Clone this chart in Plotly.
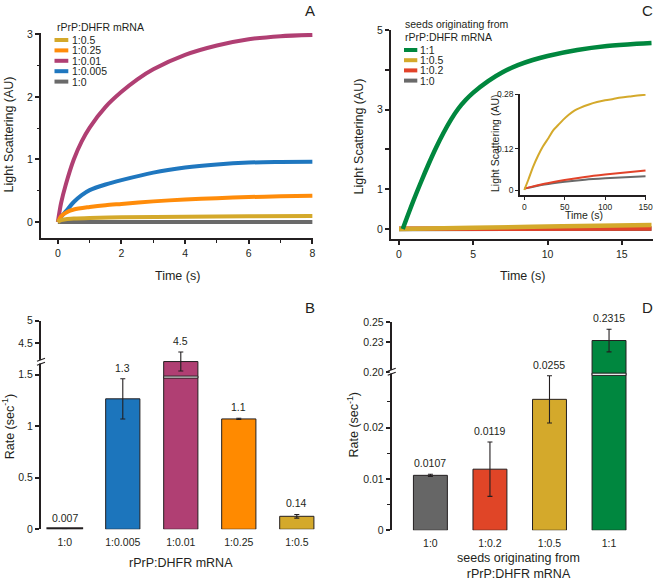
import plotly.graph_objects as go

# ---------------- Panel A : light scattering, rPrP:DHFR mRNA ----------------
A_T_0 = [0, 8]
A_V_0 = [0, 0]
A_T_0_005 = [0, 0.1, 0.25, 0.5, 0.75, 1, 1.5, 2, 3, 4, 5, 6, 7, 8]
A_V_0_005 = [0, 0.08, 0.17, 0.32, 0.43, 0.51, 0.6, 0.67, 0.79, 0.87, 0.92, 0.95, 0.96, 0.965]
A_T_0_01 = [0, 0.1, 0.25, 0.5, 0.75, 1, 1.5, 2, 2.5, 3, 4, 5, 6, 7, 8]
A_V_0_01 = [0, 0.3, 0.6, 1.0, 1.29, 1.51, 1.84, 2.08, 2.28, 2.44, 2.67, 2.82, 2.92, 2.97, 2.99]
A_T_0_25 = [0, 0.1, 0.25, 0.5, 1, 1.5, 2, 3, 4, 5, 6, 7, 8]
A_V_0_25 = [0, 0.09, 0.15, 0.2, 0.24, 0.27, 0.29, 0.33, 0.36, 0.38, 0.4, 0.41, 0.42]
A_T_0_5 = [0, 0.1, 0.25, 0.5, 1, 2, 4, 6, 8]
A_V_0_5 = [0, 0.03, 0.045, 0.055, 0.065, 0.075, 0.085, 0.092, 0.097]
A_LEGEND = ["1:0.5", "1:0.25", "1:0.01", "1:0.005", "1:0"]
A_LEGEND_COLORS = ["#D4A92B", "#FF8C0A", "#B03F73", "#1F77BF", "#6A6A6A"]

# ---------------- Panel C : seeds, main (0-17 s) and inset (0-150 s) ----------------
C_T_1_1 = [0.25, 1, 1.5, 2, 2.5, 3, 3.5, 4, 4.5, 5, 6, 7, 8, 9, 10, 12, 14, 16, 17]
C_V_1_1 = [0, 0.74, 1.2, 1.64, 2.05, 2.42, 2.75, 3.03, 3.25, 3.43, 3.72, 3.95, 4.12, 4.25, 4.35,
           4.5, 4.6, 4.66, 4.68]
C_T_0_5 = [0, 5, 11, 17]
C_V_0_5 = [0, 0.03, 0.068, 0.1]
C_T_0_2 = [0, 17]
C_V_0_2 = [0.004, 0.012]
C_T_0 = [0, 17]
C_V_0 = [0.0, 0.008]
CI_T_0_5 = [0, 5, 11, 17, 23, 30, 36, 42, 48, 55, 62, 69, 80, 90, 100, 110, 120, 130, 140, 150]
CI_V_0_5 = [0, 0.03, 0.068, 0.1, 0.127, 0.152, 0.175, 0.19, 0.205, 0.22, 0.232, 0.24, 0.25,
            0.257, 0.262, 0.266, 0.27, 0.273, 0.276, 0.278]
CI_T_0_2 = [0, 25, 50, 75, 100, 125, 150]
CI_V_0_2 = [0.004, 0.018, 0.029, 0.038, 0.045, 0.051, 0.057]
CI_T_0 = [0, 25, 50, 75, 100, 125, 150]
CI_V_0 = [0.004, 0.016, 0.024, 0.030, 0.034, 0.037, 0.040]
C_LEGEND = ["1:1", "1:0.5", "1:0.2", "1:0"]
C_LEGEND_COLORS = ["#00873E", "#D4A92B", "#E2432A", "#6A6A6A"]

# ---------------- Panel B : rates ----------------
B_CATS = ["1:0", "1:0.005", "1:0.01", "1:0.25", "1:0.5"]
B_VALS = [0.007, 1.265, 4.1, 1.07, 0.126]
B_ERRS = [0.0, 0.195, 0.21, 0.006, 0.018]
B_LABELS = ["0.007", "1.3", "4.5", "1.1", "0.14"]
B_COLORS = ["#231F20", "#1C75BC", "#B03F73", "#FF8A00", "#D4A92B"]
B_TICKS = [0, 0.5, 1, 1.5, 4.5, 5]
B_TICKTEXT = ["0", "0.5", "1", "1.5", "4.5", "5"]

# ---------------- Panel D : rates ----------------
D_CATS = ["1:0", "1:0.2", "1:0.5", "1:1"]
D_VALS = [0.0107, 0.0119, 0.0255, 0.2315]
D_ERRS = [0.0002, 0.0053, 0.0046, 0.0113]
D_LABELS = ["0.0107", "0.0119", "0.0255", "0.2315"]
D_COLORS = ["#666666", "#E04527", "#D4A92B", "#00873F"]
D_TICKS = [0, 0.01, 0.02, 0.20, 0.23, 0.25]
D_TICKTEXT = ["0", "0.01", "0.02", "0.20", "0.23", "0.25"]
D_MINOR = [0.005, 0.015, 0.025]

# broken-axis settings (lower segment top, upper segment start, upper/lower scale ratio)
B_BREAK, B_UP0, B_K = 1.624, 4.095, 0.439
D_BREAK, D_UP0, D_K = 0.0308, 0.20, 0.1953


def b_disp(v):
    return v if v <= B_BREAK else B_BREAK + (v - B_UP0) * B_K


def d_disp(v):
    return v if v <= D_BREAK else D_BREAK + (v - D_UP0) * D_K


FONT = "Liberation Sans, Arial, Helvetica, sans-serif"
INK = "#231F20"
W, H = 658, 580


def px(x):
    return x / W


def py(y):
    return 1 - y / H


fig = go.Figure()

# ---- A traces
for t, v, c in [(A_T_0, A_V_0, A_LEGEND_COLORS[4]),
                (A_T_0_01, A_V_0_01, A_LEGEND_COLORS[2]),
                (A_T_0_005, A_V_0_005, A_LEGEND_COLORS[3]),
                (A_T_0_25, A_V_0_25, A_LEGEND_COLORS[1]),
                (A_T_0_5, A_V_0_5, A_LEGEND_COLORS[0])]:
    fig.add_trace(go.Scatter(x=t, y=v, mode="lines", xaxis="x", yaxis="y", showlegend=False,
                             line=dict(color=c, width=4, shape="spline", smoothing=0.8)))

# ---- C main
for t, v, c in [(C_T_0, C_V_0, C_LEGEND_COLORS[3]),
                (C_T_0_2, C_V_0_2, C_LEGEND_COLORS[2]),
                (C_T_0_5, C_V_0_5, C_LEGEND_COLORS[1]),
                (C_T_1_1, C_V_1_1, C_LEGEND_COLORS[0])]:
    fig.add_trace(go.Scatter(x=t, y=v, mode="lines", xaxis="x2", yaxis="y2", showlegend=False,
                             line=dict(color=c, width=4.5, shape="spline", smoothing=1.0)))

# ---- C inset
for t, v, c in [(CI_T_0, CI_V_0, C_LEGEND_COLORS[3]),
                (CI_T_0_2, CI_V_0_2, C_LEGEND_COLORS[2]),
                (CI_T_0_5, CI_V_0_5, C_LEGEND_COLORS[1])]:
    fig.add_trace(go.Scatter(x=t, y=v, mode="lines", xaxis="x3", yaxis="y3", showlegend=False,
                             line=dict(color=c, width=2, shape="spline", smoothing=0.8)))

# ---- B bars
b_y = [b_disp(v) for v in B_VALS]
b_e = [e * (B_K if v > B_BREAK else 1) for v, e in zip(B_VALS, B_ERRS)]
fig.add_trace(go.Bar(x=B_CATS, y=b_y, xaxis="x4", yaxis="y4", showlegend=False, width=0.59,
                     marker=dict(color=B_COLORS, line=dict(color=INK, width=[2.5, 1, 1, 1, 1])),
                     error_y=dict(type="data", array=b_e, color=INK, thickness=1.1, width=2.5)))

# ---- D bars
d_y = [d_disp(v) for v in D_VALS]
d_e = [e * (D_K if v > D_BREAK else 1) for v, e in zip(D_VALS, D_ERRS)]
fig.add_trace(go.Bar(x=D_CATS, y=d_y, xaxis="x5", yaxis="y5", showlegend=False, width=0.57,
                     marker=dict(color=D_COLORS, line=dict(color=INK, width=1)),
                     error_y=dict(type="data", array=d_e, color=INK, thickness=1.1, width=2.5)))

common = dict(showline=True, linecolor=INK, linewidth=2, ticks="outside", ticklen=4,
              tickwidth=1.5, tickcolor=INK, showgrid=False, zeroline=False,
              tickfont=dict(family=FONT, size=10.5, color=INK), automargin=False)
minor_style = dict(ticks="outside", ticklen=2.5, tickwidth=1.2, tickcolor=INK, showgrid=False)
inset = dict(common, linewidth=1.5, ticklen=3, tickwidth=1.2,
             tickfont=dict(family=FONT, size=8.5, color=INK))
cat_axis = dict(showline=False, showgrid=False, zeroline=False, ticks="outside", ticklen=3,
                tickcolor="rgba(0,0,0,0)", type="category", automargin=False,
                tickfont=dict(family=FONT, size=10.5, color=INK))

fig.update_layout(
    width=W, height=H, margin=dict(l=0, r=0, t=0, b=0),
    paper_bgcolor="white", plot_bgcolor="rgba(0,0,0,0)",
    font=dict(family=FONT, color=INK, size=11),
    showlegend=False,
    xaxis=dict(common, domain=[px(41), px(313)], range=[-0.53, 8.02], anchor="y",
               tickvals=[0, 2, 4, 6, 8], minor=dict(minor_style, tickvals=[1, 3, 5, 7])),
    yaxis=dict(common, domain=[py(238), py(33)], range=[-0.255, 3.02], anchor="x",
               tickvals=[0, 1, 2, 3], minor=dict(minor_style, tickvals=[0.5, 1.5, 2.5])),
    xaxis2=dict(common, domain=[px(391), px(652.7)], range=[-0.54, 17.08], anchor="y2",
                tickvals=[0, 5, 10, 15]),
    yaxis2=dict(common, domain=[py(239.3), py(30)], range=[-0.26, 5.005], anchor="x2",
                tickvals=[0, 1, 2, 3, 4, 5], ticktext=["0", "1", "", "3", "", "5"]),
    xaxis3=dict(inset, domain=[px(520), px(646)], range=[-5.3, 150.6], anchor="y3",
                tickvals=[0, 50, 100, 150]),
    yaxis3=dict(inset, domain=[py(195), py(94)], range=[-0.0146, 0.2805], anchor="x3",
                tickvals=[0, 0.12, 0.28], ticktext=["0", "0.12", "0.28"]),
    xaxis4=dict(cat_axis, domain=[px(41), px(320)], range=[-0.41, 4.4], anchor="y4"),
    yaxis4=dict(common, domain=[py(529.3), py(320.7)], range=[0, b_disp(5) + 0.001], anchor="x4",
                tickvals=[b_disp(v) for v in B_TICKS], ticktext=B_TICKTEXT),
    xaxis5=dict(cat_axis, domain=[px(391.7), px(640)], range=[-0.65, 3.52], anchor="y5"),
    yaxis5=dict(common, domain=[py(530.3), py(321.7)], range=[0, d_disp(0.25) + 0.00005], anchor="x5",
                tickvals=[d_disp(v) for v in D_TICKS], ticktext=D_TICKTEXT,
                minor=dict(minor_style, ticklen=3, tickvals=D_MINOR)),
)

ann = []
shapes = []


def text(x, y, s, size=12.5, angle=0, xanchor="center", yanchor="middle"):
    ann.append(dict(x=px(x), y=py(y), xref="paper", yref="paper", text=s, showarrow=False,
                    textangle=angle, xanchor=xanchor, yanchor=yanchor,
                    font=dict(family=FONT, size=size, color=INK)))


# axis titles
text(8.5, 135, "Light Scattering (AU)", angle=-90)
text(177, 276, "Time (s)")
text(358.5, 137, "Light Scattering (AU)", angle=-90)
text(522.5, 276, "Time (s)")
text(495, 143, "Light Scattering (AU)", size=10.5, angle=-90)
text(584, 215, "Time (s)", size=10.5)
text(8.3, 427, "Rate (sec<sup>-1</sup>)", angle=-90)
text(180.5, 563, "rPrP:DHFR mRNA")
text(352.5, 425, "Rate (sec<sup>-1</sup>)", angle=-90)
text(518, 566, "seeds originating from<br>rPrP:DHFR mRNA")

# panel letters
text(310, 10, "A", size=15)
text(310, 307, "B", size=15)
text(647.5, 10, "C", size=15)
text(647.5, 307, "D", size=15)

# legends
text(55, 27.3, "rPrP:DHFR mRNA", size=10.5, xanchor="left")
for i, (lab, col) in enumerate(zip(A_LEGEND, A_LEGEND_COLORS)):
    yy = 40 + i * 10.4
    shapes.append(dict(type="line", xref="paper", yref="paper", x0=px(54.5), x1=px(68.3),
                       y0=py(yy), y1=py(yy), line=dict(color=col, width=4)))
    text(70, yy, lab, size=10.5, xanchor="left")

text(402.7, 24, "seeds originating from", size=10.5, xanchor="left")
text(402.7, 36.7, "rPrP:DHFR mRNA", size=10.5, xanchor="left")
for i, (lab, col) in enumerate(zip(C_LEGEND, C_LEGEND_COLORS)):
    yy = 50 + i * 10.2
    shapes.append(dict(type="line", xref="paper", yref="paper", x0=px(404), x1=px(417.3),
                       y0=py(yy), y1=py(yy), line=dict(color=col, width=4)))
    text(418.3, yy, lab, size=10.5, xanchor="left")

# bar value labels
for c, v, e, lab in zip(B_CATS, b_y, b_e, B_LABELS):
    ann.append(dict(x=c, y=v + e, xref="x4", yref="y4", text=lab, showarrow=False,
                    yanchor="bottom", yshift=3, font=dict(family=FONT, size=10.5, color=INK)))
for c, v, e, lab in zip(D_CATS, d_y, d_e, D_LABELS):
    ann.append(dict(x=c, y=v + e, xref="x5", yref="y5", text=lab, showarrow=False,
                    yanchor="bottom", yshift=3, font=dict(family=FONT, size=10.5, color=INK)))

# gaps through the broken bars
shapes.append(dict(type="rect", xref="x4", yref="y4", x0=2 - 0.295, x1=2 + 0.295, y0=1.466, y1=1.485,
                   fillcolor="white", line=dict(color=INK, width=1), layer="above"))
shapes.append(dict(type="rect", xref="x5", yref="y5", x0=3 - 0.285, x1=3 + 0.285, y0=0.03016, y1=0.0306,
                   fillcolor="white", line=dict(color=INK, width=1), layer="above"))

# axis break marks
for ax_x, ax_y in [(41, 361.7), (391.7, 371.7)]:
    shapes.append(dict(type="rect", xref="paper", yref="paper", xsizemode="pixel", ysizemode="pixel",
                       xanchor=px(ax_x), yanchor=py(ax_y), x0=-2, x1=2, y0=-1.8, y1=1.8,
                       fillcolor="white", line=dict(width=0), layer="above"))
    for off in (-2, 2):
        shapes.append(dict(type="line", xref="paper", yref="paper", xsizemode="pixel", ysizemode="pixel",
                           xanchor=px(ax_x), yanchor=py(ax_y), x0=-4, x1=4, y0=off - 1.5, y1=off + 1.5,
                           line=dict(color=INK, width=1.2), layer="above"))

fig.update_layout(annotations=ann, shapes=shapes)
fig.write_html("out.html", config={"displayModeBar": False},
               post_script="document.body.style.margin='0';document.body.style.overflow='hidden';")
